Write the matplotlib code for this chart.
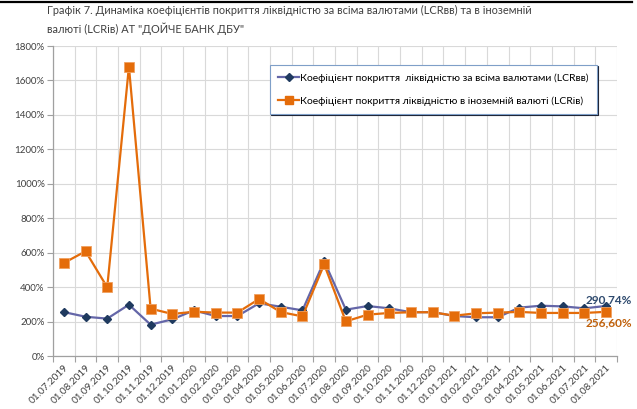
import matplotlib
matplotlib.use("Agg")
import matplotlib.pyplot as plt
from matplotlib.ticker import FuncFormatter, FixedLocator
from matplotlib.lines import Line2D
import numpy as np

plt.rcParams['font.family'] = ['Lato', 'DejaVu Sans']

dates = ["01.07.2019", "01.08.2019", "01.09.2019", "01.10.2019", "01.11.2019", "01.12.2019",
         "01.01.2020", "01.02.2020", "01.03.2020", "01.04.2020", "01.05.2020", "01.06.2020",
         "01.07.2020", "01.08.2020", "01.09.2020", "01.10.2020", "01.11.2020", "01.12.2020",
         "01.01.2021", "01.02.2021", "01.03.2021", "01.04.2021", "01.05.2021", "01.06.2021",
         "01.07.2021", "01.08.2021"]
lcr_all = [255, 228, 217, 298, 182, 213, 265, 232, 232, 306, 286, 265,
           551, 269, 290, 277, 254, 255, 232, 225, 225, 281, 292, 288, 277, 290.74]
lcr_fx = [540, 608, 399, 1680, 275, 244, 257, 252, 252, 331, 255, 230,
          532, 201, 240, 250, 254, 254, 234, 248, 252, 256, 250, 250, 250, 256.60]

name_all = "Коефіцієнт покриття  ліквідністю за всіма валютами (LCRвв)"
name_fx = "Коефіцієнт покриття ліквідністю в іноземній валюті (LCRів)"
title = ('Графік 7. Динаміка коефіцієнтів покриття ліквідністю за всіма валютами (LCRвв) та в іноземній\n'
         'валюті (LCRів) АТ "ДОЙЧЕ БАНК ДБУ"')

W, H = 637, 409
fig = plt.figure(figsize=(W/100, H/100), dpi=100)
ax = fig.add_axes([53/W, 1-356/H, (617-53)/W, (356-46)/H])

x = np.arange(len(dates))
c_blue_line = '#6466a8'
c_blue_mk = '#1f3a5f'
c_orange = '#e46c0a'

ax.plot(x, lcr_all, color=c_blue_line, lw=1.6, marker='D', ms=4,
        mfc=c_blue_mk, mec=c_blue_mk, zorder=3)
ax.plot(x, lcr_fx, color=c_orange, lw=1.6, marker='s', ms=7,
        mfc=c_orange, mec='#f0a060', mew=0.6, zorder=4)

ax.set_xlim(-0.5, len(dates)-0.5)
ax.set_ylim(0, 1800)
ax.set_yticks(np.arange(0, 1801, 200))
ax.yaxis.set_major_formatter(FuncFormatter(lambda v, p: f"{int(v)}%"))
ax.tick_params(axis='y', labelsize=7, colors='#404040', length=4, width=0.8, color='#a0a0a0', pad=2)

ax.set_xticks(x)
ax.set_xticklabels(dates, rotation=45, ha='right', rotation_mode='anchor', fontsize=7.2, color='#404040')
ax.tick_params(axis='x', which='major', length=0, pad=5)
ax.xaxis.set_minor_locator(FixedLocator(np.arange(-0.5, len(dates), 1.0)))
ax.tick_params(axis='x', which='minor', length=4, width=0.8, color='#a0a0a0')

ax.grid(axis='y', which='major', color='#d9d9d9', lw=0.8)
ax.grid(axis='x', which='minor', color='#d9d9d9', lw=0.8)
ax.set_axisbelow(True)
for s in ['top', 'right']:
    ax.spines[s].set_visible(False)
for s in ['left', 'bottom']:
    ax.spines[s].set_color('#a0a0a0')
    ax.spines[s].set_linewidth(0.9)

ax.annotate("290,74%", (x[-1], lcr_all[-1]), xytext=(3, 6), textcoords='offset pixels',
            ha='center', va='center', fontsize=8.5, fontweight='bold', color='#2e4a6e')
ax.annotate("256,60%", (x[-1], lcr_fx[-1]), xytext=(3, -11), textcoords='offset pixels',
            ha='center', va='center', fontsize=8.5, fontweight='bold', color='#c0600a')

handles = [Line2D([], [], color=c_blue_line, lw=1.6, marker='D', ms=4, mfc=c_blue_mk, mec=c_blue_mk),
           Line2D([], [], color=c_orange, lw=1.6, marker='s', ms=6, mfc=c_orange, mec=c_orange)]
leg = ax.legend(handles, [name_all, name_fx], loc='upper left',
                bbox_to_anchor=((270-53)/(617-53), 1-(65-46)/(356-46)),
                fontsize=7.5, frameon=True, fancybox=False,
                shadow={'ox': 0.7, 'oy': -0.7, 'color': '#1a2030', 'alpha': 1.0},
                handlelength=2.0, handletextpad=0.1, labelspacing=1.3, borderpad=0.8,
                borderaxespad=0)
leg.get_frame().set_edgecolor('#7f9fc8')
leg.get_frame().set_linewidth(0.8)

fig.text(47/W, 1-20/H, title, fontsize=7.9, color='#404040', ha='left', va='center', linespacing=1.55)
fig.add_artist(Line2D([0, 632/W], [1-2/H, 1-2/H], color='black', lw=1.6))

fig.savefig("out.png", dpi=100)
